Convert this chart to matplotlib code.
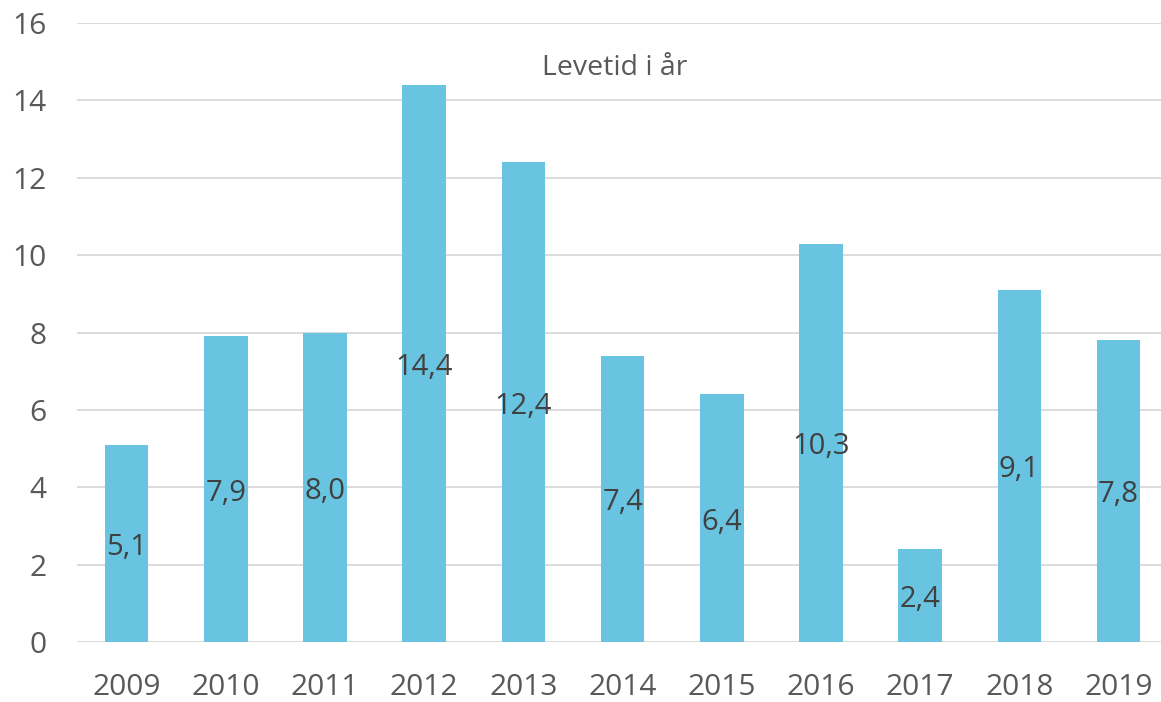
import matplotlib.pyplot as plt

plt.rcParams["font.family"] = ["Open Sans", "DejaVu Sans"]

years = ["2009", "2010", "2011", "2012", "2013", "2014", "2015", "2016", "2017", "2018", "2019"]
levetid = [5.1, 7.9, 8.0, 14.4, 12.4, 7.4, 6.4, 10.3, 2.4, 9.1, 7.8]
yticks = [0, 2, 4, 6, 8, 10, 12, 14, 16]

W, H = 1161, 702
fig = plt.figure(figsize=(W / 100, H / 100), dpi=100)
ax = fig.add_axes([77 / W, (H - 642) / H, (1161 - 77) / W, (642 - 23) / H])

x = list(range(len(years)))
ax.bar(x, levetid, width=0.44, color="#68C4E0", zorder=2)

for xi, v in zip(x, levetid):
    ax.text(xi, v / 2 - 0.1, f"{v:.1f}".replace(".", ","), ha="center", va="center",
            fontsize=21, color="#404040", zorder=3)

ax.set_xlim(-0.5, -0.5 + 1084 / 99.2)
ax.set_ylim(0, 16)
ax.set_yticks(yticks)
ax.set_xticks(x)
ax.set_xticklabels(years)
ax.yaxis.grid(True, color="#D9D9D9", linewidth=1.3, zorder=0)
ax.set_axisbelow(True)
for s in ax.spines.values():
    s.set_visible(False)
ax.tick_params(axis="both", length=0, labelsize=21.5, labelcolor="#595959")
ax.tick_params(axis="y", pad=22)
ax.tick_params(axis="x", pad=22)

ax.text(0.496, 0.928, "Levetid i år", transform=ax.transAxes, ha="center", va="center",
        fontsize=20.5, color="#595959")

fig.savefig("out.png", dpi=100)
